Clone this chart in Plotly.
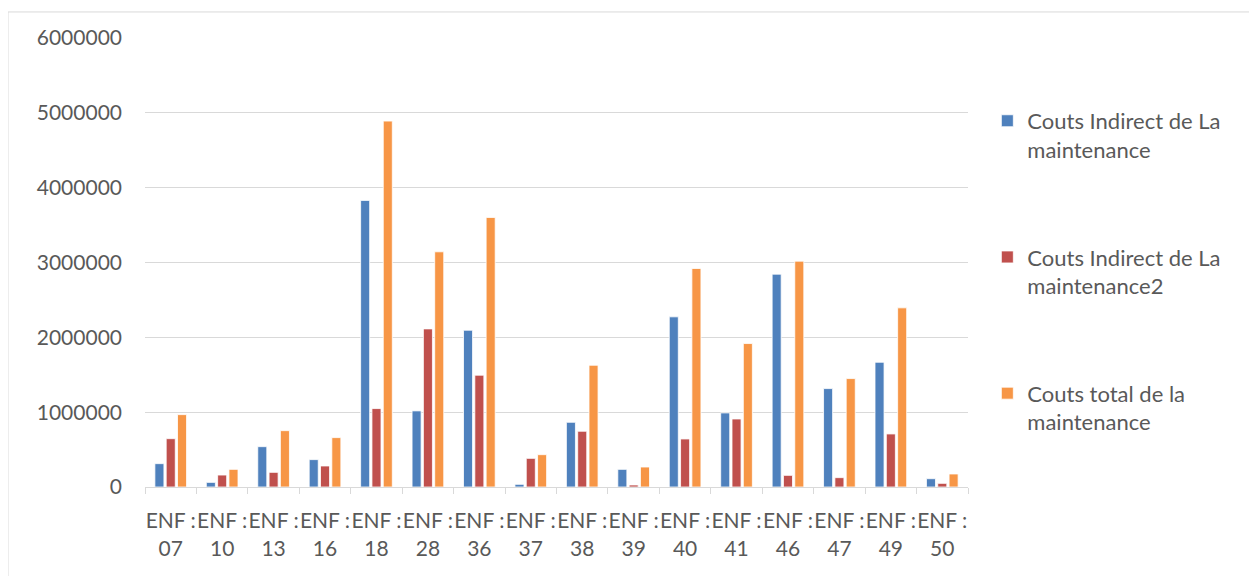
import plotly.graph_objects as go

categories = ["07", "10", "13", "16", "18", "28", "36", "37", "38", "39", "40", "41", "46", "47", "49", "50"]
tick_labels = ["ENF :<br>" + c for c in categories]

couts_indirect = [312000, 62000, 539000, 366000, 3830000, 1017000, 2095000, 36000,
                  865000, 236000, 2274000, 990000, 2844000, 1315000, 1667000, 111000]
couts_indirect2 = [646000, 160000, 196000, 281000, 1048000, 2113000, 1494000, 383000,
                   745000, 27000, 642000, 909000, 156000, 125000, 709000, 49000]
couts_total = [967000, 236000, 753000, 660000, 4890000, 3143000, 3602000, 432000,
               1627000, 267000, 2920000, 1917000, 3018000, 1449000, 2394000, 174000]

series_names = ["Couts Indirect de La<br>maintenance",
                "Couts Indirect de La<br>maintenance2",
                "Couts total de la<br>maintenance"]
series_values = [couts_indirect, couts_indirect2, couts_total]
colors = ["#4F81BD", "#C0504D", "#F79646"]

FONT = "Lato"
TXT = "#595959"

fig = go.Figure()
for i, (name, vals, col) in enumerate(zip(series_names, series_values, colors)):
    fig.add_trace(go.Bar(
        x=tick_labels, y=vals, name=name, legendgroup=str(i),
        marker=dict(color=col, line=dict(color="white", width=0.8)),
    ))

fig.update_layout(
    width=1249, height=568,
    margin=dict(l=137, r=289, t=30, b=89, autoexpand=False),
    paper_bgcolor="white", plot_bgcolor="white",
    barmode="group", bargap=0.34, bargroupgap=0.2,
    font=dict(family=FONT, size=21, color=TXT),
    showlegend=True,
    legend=dict(
        x=1.0235, xanchor="left", y=0.862, yanchor="top",
        font=dict(family=FONT, size=22, color=TXT),
        tracegroupgap=76, valign="top",
        bgcolor="rgba(0,0,0,0)",
    ),
    xaxis=dict(
        type="category", showgrid=False, automargin=False,
        showline=True, linecolor="#d9d9d9", linewidth=1,
        ticks="outside", tickson="boundaries", ticklen=6, tickcolor="#d9d9d9",
        tickangle=0,
        tickfont=dict(family=FONT, size=21, color=TXT),
        ticklabelstandoff=15,
    ),
    yaxis=dict(
        range=[0, 6000000], tickvals=[0, 1000000, 2000000, 3000000, 4000000, 5000000, 6000000],
        ticktext=["0", "1000000", "2000000", "3000000", "4000000", "5000000", "6000000"],
        showgrid=True, gridcolor="#d9d9d9", gridwidth=1.3, automargin=False,
        zeroline=False, showline=False,
        tickfont=dict(family=FONT, size=21, color=TXT),
        ticklabelstandoff=22,
    ),
    shapes=[dict(type="rect", xref="paper", yref="paper",
                 x0=-0.1665, x1=1.6, y0=-0.3, y1=1.058,
                 line=dict(color="#d9d9d9", width=1), fillcolor="rgba(0,0,0,0)", layer="below")],
)

fig.write_html("out.html")
